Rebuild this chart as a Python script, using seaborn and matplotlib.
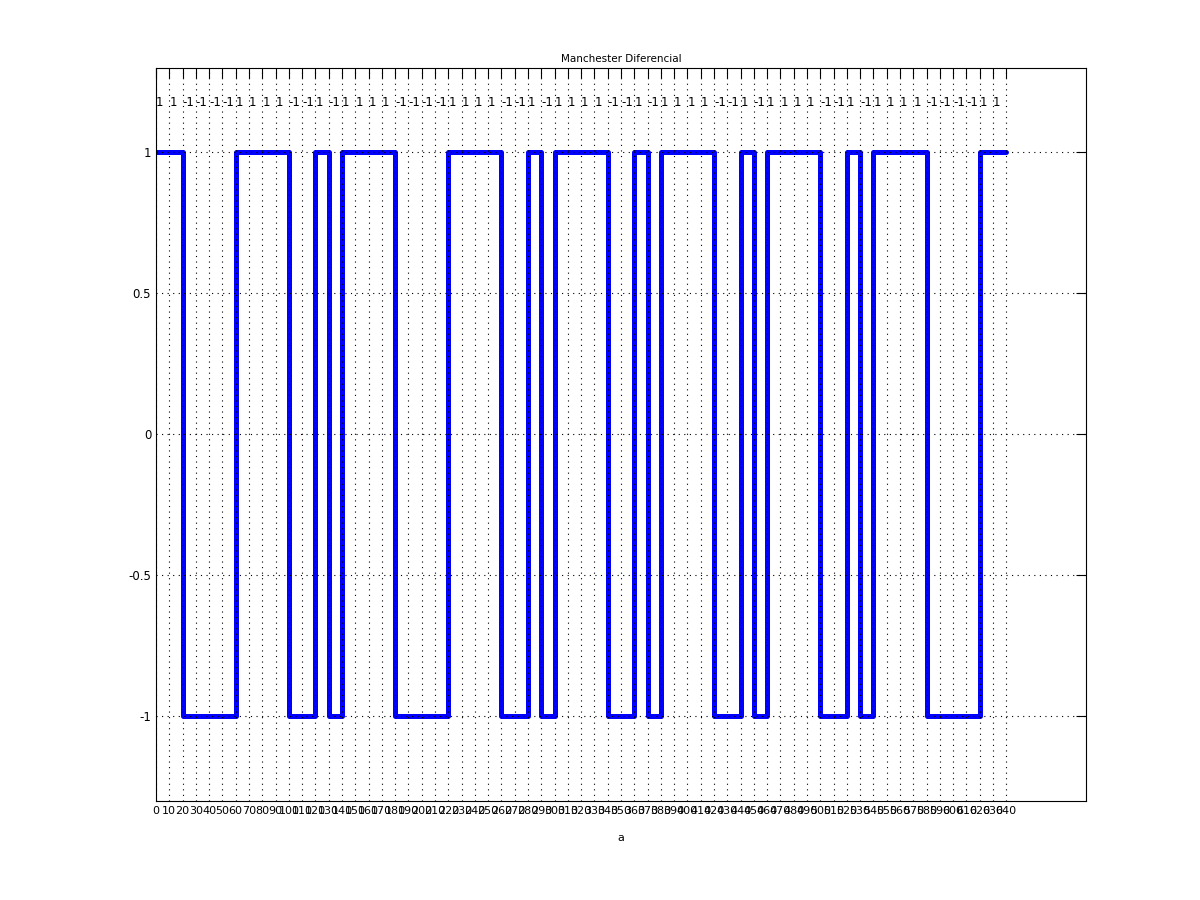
import numpy as np
import pandas as pd
import matplotlib
matplotlib.use('Agg')
import matplotlib.pyplot as plt
import seaborn as sns

# bit levels of the encoded signal, one value per 10-unit slot (0..630)
levels = [1, 1, -1, -1, -1, -1, 1, 1, 1, 1, -1, -1, 1, -1, 1, 1,
          1, 1, -1, -1, -1, -1, 1, 1, 1, 1, -1, -1, 1, -1, 1, 1,
          1, 1, -1, -1, 1, -1, 1, 1, 1, 1, -1, -1, 1, -1, 1, 1,
          1, 1, -1, -1, 1, -1, 1, 1, 1, 1, -1, -1, -1, -1, 1, 1]
slot = 10
x_pos = [i * slot for i in range(len(levels) + 1)]
y_val = levels + [levels[-1]]
x_ticks = list(range(0, 650, 10))
y_ticks = [-1, -0.5, 0, 0.5, 1]

df = pd.DataFrame({'a': x_pos, 'v': y_val})

sns.set_style('white')
plt.rcParams['font.family'] = ['DejaVu Sans']

fig = plt.figure(figsize=(12, 9), dpi=100)
ax = fig.add_axes([0.13, 0.11, 0.775, 0.815])

sns.lineplot(data=df, x='a', y='v', drawstyle='steps-post', color='#0000ff',
             linewidth=3.6, ax=ax, estimator=None)

# value labels above the signal
for xp, lv in zip(x_pos[:-1], levels):
    ax.text(xp, 1.175, str(lv), ha='left', va='center', fontsize=8.5, color='black')

ax.set_xlim(0, 700)
ax.set_ylim(-1.3, 1.3)
ax.set_xticks(x_ticks)
ax.set_xticklabels([str(t) for t in x_ticks], fontsize=8)
ax.set_yticks(y_ticks)
ax.set_yticklabels(['-1', '-0.5', '0', '0.5', '1'], fontsize=8.5)
ax.tick_params(direction='in', top=True, right=True, length=7, width=0.8,
               colors='black', labelcolor='black')
ax.grid(True, linestyle=(0, (1, 4)), color='black', linewidth=0.8)
ax.set_axisbelow(False)
for s in ax.spines.values():
    s.set_linewidth(0.8)
    s.set_color('black')

ax.set_title('Manchester Diferencial', fontsize=7.5, color='black', pad=4)
ax.set_xlabel('a', fontsize=8, color='black', labelpad=12)
ax.set_ylabel('')

fig.savefig('out.png', dpi=100)
